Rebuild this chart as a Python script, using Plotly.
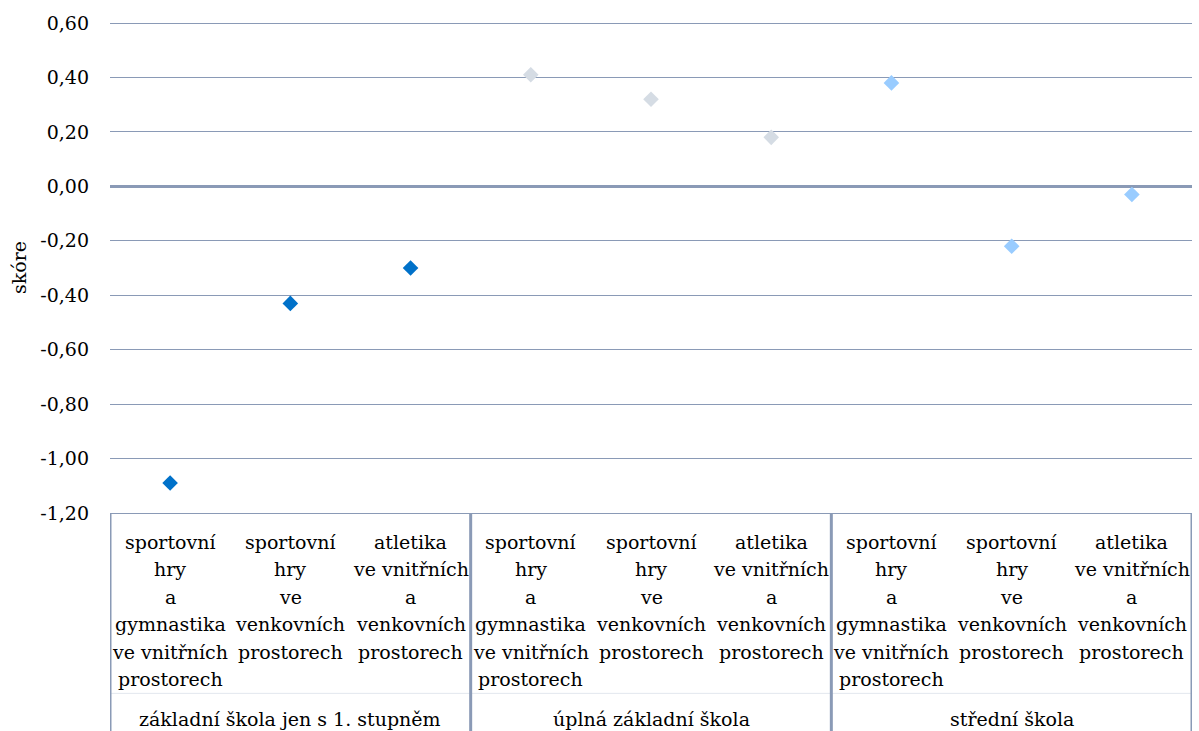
import plotly.graph_objects as go

# School types (outer category level) and activity types (inner level)
school_types = ["základní škola jen s 1. stupněm", "úplná základní škola", "střední škola"]
activity_lines = [
    ["sportovní", "hry", "a", "gymnastika", "ve vnitřních", "prostorech"],
    ["sportovní", "hry", "ve", "venkovních", "prostorech"],
    ["atletika", "ve vnitřních", "a", "venkovních", "prostorech"],
]

# Score per activity, one list per school type
score_zs1 = [-1.09, -0.43, -0.30]
score_zs_full = [0.41, 0.32, 0.18]
score_ss = [0.38, -0.22, -0.03]

series_colors = ["#0071C9", "#D5DCE4", "#99CCFF"]

y_tick_vals = [0.6, 0.4, 0.2, 0.0, -0.2, -0.4, -0.6, -0.8, -1.0, -1.2]
y_tick_text = ["0,60", "0,40", "0,20", "0,00", "-0,20", "-0,40", "-0,60", "-0,80", "-1,00", "-1,20"]

FONT = "DejaVu Serif"
FS = 19
GRID = "#8A9AB6"

n_act = len(activity_lines)
fig = go.Figure()
for g, (scores, color) in enumerate(zip([score_zs1, score_zs_full, score_ss], series_colors)):
    xs = [g * n_act + i + 1 for i in range(n_act)]
    fig.add_trace(go.Scatter(
        x=xs, y=scores, mode="markers", name=school_types[g],
        marker=dict(symbol="diamond", size=12, color=color, line=dict(width=0)),
        showlegend=False,
    ))

annotations = []
# inner-level category labels, one text line per annotation
line_step = 27.4
for g in range(len(school_types)):
    for i, lines in enumerate(activity_lines):
        x = g * n_act + i + 1
        for j, txt in enumerate(lines):
            annotations.append(dict(
                x=x, y=0, xref="x", yref="paper", text=txt, showarrow=False,
                xanchor="center", yanchor="middle", yshift=-(29 + line_step * j),
                font=dict(family=FONT, size=FS, color="black"),
            ))
    # outer-level label
    annotations.append(dict(
        x=g * n_act + (n_act + 1) / 2, y=0, xref="x", yref="paper", text=school_types[g],
        showarrow=False, xanchor="center", yanchor="middle", yshift=-206,
        font=dict(family=FONT, size=FS, color="black"),
    ))

shapes = []
# vertical separators of the category table
for k in range(len(school_types) + 1):
    xb = k * n_act + 0.5
    shapes.append(dict(type="line", xref="x", yref="paper", x0=xb, x1=xb, y0=0, y1=-0.5,
                       line=dict(color=GRID, width=3), layer="above"))
# faint rule between the two category levels
shapes.append(dict(type="line", xref="x", yref="paper", x0=0.5, x1=len(school_types) * n_act + 0.5,
                   y0=-180 / 490, y1=-180 / 490, line=dict(color="#E3E7EE", width=1), layer="below"))

fig.update_layout(
    width=1199, height=731,
    margin=dict(l=110, r=7, t=22, b=218, autoexpand=False),
    paper_bgcolor="white", plot_bgcolor="white",
    font=dict(family=FONT, size=FS, color="black"),
    xaxis=dict(
        range=[0.5, len(school_types) * n_act + 0.5], showgrid=False, zeroline=False,
        showticklabels=False, ticks="", showline=True, linecolor=GRID, linewidth=1,
        fixedrange=True,
    ),
    yaxis=dict(
        range=[-1.2, 0.6037], tickvals=y_tick_vals, ticktext=y_tick_text,
        showgrid=True, gridcolor=GRID, gridwidth=1,
        zeroline=True, zerolinecolor=GRID, zerolinewidth=3,
        showline=False, ticks="", ticklabelstandoff=20,
        title=dict(text="skóre", standoff=8, font=dict(family=FONT, size=FS)),
        tickfont=dict(family=FONT, size=FS, color="black"),
        fixedrange=True,
    ),
    annotations=annotations,
    shapes=shapes,
)

fig.write_html("out.html")
